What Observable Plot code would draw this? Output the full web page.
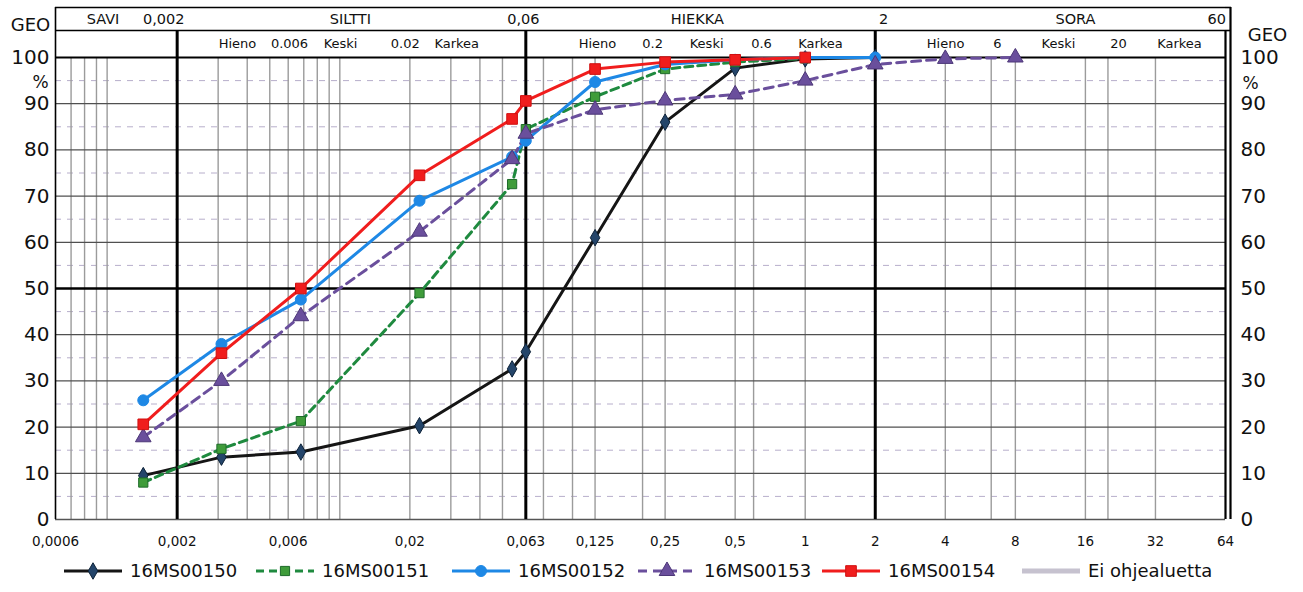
<!DOCTYPE html>
<html>
<head>
<meta charset="utf-8">
<script src="https://cdn.jsdelivr.net/npm/d3@7"></script>
<script src="https://cdn.jsdelivr.net/npm/@observablehq/plot@0.6"></script>
<style>
  html, body { margin: 0; padding: 0; background: #fff; }
  #wrap { width: 1303px; font-family: "DejaVu Sans", Verdana, sans-serif; }
  #legend { position: relative; width: 1303px; height: 36px; font-size: 18px; color: #111; }
  .item { position: absolute; top: 4px; display: flex; align-items: center; white-space: nowrap; }
  .item svg { margin-right: 6px; }
</style>
</head>
<body>
<div id="wrap"><div id="chart"></div><div id="legend"></div></div>
<script>
// ---- data ----
const sizes = [0.00143, 0.0031, 0.0068, 0.022, 0.055, 0.063, 0.125, 0.25, 0.5, 1, 2, 4, 8];
const s16MS00150 = [9.5, 13.5, 14.6, 20.3, 32.6, 36.3, 61, 86, 97.7, 99.7, 100, null, null];
const s16MS00151 = [8, 15.3, 21.3, 49, 72.6, 84.5, 91.5, 97.5, 99, 99.8, null, null, null];
const s16MS00152 = [25.8, 38, 47.6, 69, 78.5, 82, 94.7, 98.5, 99.5, 100, 100, null, null];
const s16MS00153 = [17.8, 30, 44, 62.3, 78, 83.5, 88.7, 90.7, 92, 95, 98.5, 99.7, 100];
const s16MS00154 = [20.6, 36, 50, 74.5, 86.7, 90.6, 97.5, 99, 99.5, 100, null, null, null];
const seriesNames = ["16MS00150", "16MS00151", "16MS00152", "16MS00153", "16MS00154"];
const seriesValues = [s16MS00150, s16MS00151, s16MS00152, s16MS00153, s16MS00154];
const guideName = "Ei ohjealuetta";

const xTicks = [0.0006, 0.002, 0.006, 0.02, 0.063, 0.125, 0.25, 0.5, 1, 2, 4, 8, 16, 32, 64];
const xTickLabels = ["0,0006", "0,002", "0,006", "0,02", "0,063", "0,125", "0,25", "0,5", "1", "2", "4", "8", "16", "32", "64"];
const yTicks = [0, 10, 20, 30, 40, 50, 60, 70, 80, 90, 100];
const gridX = [0.0007, 0.0008, 0.0009, 0.001, 0.003, 0.004, 0.005, 0.006, 0.007, 0.008, 0.009, 0.01,
               0.02, 0.03, 0.04, 0.05, 0.075, 0.1, 0.125, 0.2, 0.25, 0.5, 0.6, 1, 4, 6.3, 8, 16, 20, 32];
const boundaryX = [0.002, 0.063, 2];
const band1Labels = ["SAVI", "0,002", "SILTTI", "0,06", "HIEKKA", "2", "SORA", "60"];
const band1X = [0.00096, 0.00175, 0.0111, 0.0615, 0.344, 2.17, 14.5, 58.7];
const band2Labels = ["Hieno", "0.006", "Keski", "0.02", "Karkea", "Hieno", "0.2", "Keski", "0.6", "Karkea",
                     "Hieno", "6", "Keski", "20", "Karkea"];
const band2X = [0.00363, 0.00608, 0.01007, 0.0191, 0.0318, 0.128, 0.221, 0.377, 0.649, 1.163,
                4.01, 6.7, 12.25, 22.2, 40.6];

// ---- styles ----
const styles = [
  {stroke: "#151515", dash: null, symbol: "diamond", fill: "#24456a", mstroke: "#0d2238", r: 5},
  {stroke: "#1f8a3f", dash: "8,5", symbol: "square", fill: "#3f9c3a", mstroke: "#1e6b2a", r: 5.2},
  {stroke: "#1e88e5", dash: null, symbol: "circle", fill: "#1e88e5", mstroke: "#1e88e5", r: 5.5},
  {stroke: "#6a4f9c", dash: "9,6", symbol: "triangle", fill: "#6a4f9c", mstroke: "#4d3778", r: 5.8},
  {stroke: "#f01d1d", dash: null, symbol: "square", fill: "#f01d1d", mstroke: "#d01010", r: 6}
];

const series = seriesNames.map((name, k) =>
  sizes.map((s, i) => ({size: s, pct: seriesValues[k][i], name})).filter(d => d.pct != null));

const yTop = 100, yRow = 105.84, yHead = 110.82;
const xMin = xTicks[0], xMax = xTicks[xTicks.length - 1];
const fives = d3.range(5, 100, 10);
const tens = yTicks.filter(v => v > 0 && v < 100 && v !== 50);

const marks = [
  // minor grid
  Plot.ruleY(fives, {stroke: "#b7aecb", strokeWidth: 1, strokeDasharray: "6,6"}),
  Plot.ruleX(gridX, {y1: 0, y2: yTop, stroke: "#9b9b9b", strokeWidth: 1.4}),
  Plot.ruleY(tens, {stroke: "#505050", strokeWidth: 1.3}),
  Plot.ruleY([50], {stroke: "#000", strokeWidth: 2.6}),
  Plot.ruleY([0], {stroke: "#555", strokeWidth: 1.5}),
  // boundaries
  Plot.ruleX(boundaryX, {y1: 0, y2: yRow, stroke: "#000", strokeWidth: 3}),
  Plot.ruleX([xMin], {y1: 0, y2: yHead, stroke: "#000", strokeWidth: 1.6}),
  Plot.ruleX([xMax], {y1: 0, y2: yRow, stroke: "#000", strokeWidth: 2.2}),
  Plot.ruleX([xMax], {y1: 0, y2: yHead, dx: 5, stroke: "#000", strokeWidth: 2.2}),
  // header lines
  Plot.ruleY([yTop], {x1: xMin, x2: xMax, stroke: "#000", strokeWidth: 2.2}),
  Plot.ruleY([yRow, yHead], {x1: xMin, x2: xMax, stroke: "#000", strokeWidth: 1.6}),
  Plot.ruleY([yRow, yHead], {x1: xMax, x2: xMax, insetRight: -6, stroke: "#000", strokeWidth: 1.6}),
  Plot.text(band1Labels, {x: (d, i) => band1X[i], y: 108.3, fontSize: 14.5, fill: "#111"}),
  Plot.text(band2Labels, {x: (d, i) => band2X[i], y: 102.9, fontSize: 13, fill: "#111"}),
  // x tick labels
  Plot.text(xTicks, {x: d => d, frameAnchor: "bottom", dy: 26, fontSize: 13.5, fill: "#111",
    text: (d, i) => xTickLabels[i], fontWeight: d => d === 0.063 ? "bold" : "normal"}),
  // y axes
  Plot.axisY(yTicks, {anchor: "left", tickSize: 0, tickPadding: 6, fontSize: 20, label: null}),
  Plot.axisY(yTicks, {anchor: "right", tickSize: 0, tickPadding: 15, fontSize: 20, label: null}),
  Plot.text(["GEO"], {frameAnchor: "top-left", textAnchor: "middle", dx: -25, dy: -39, fontSize: 18, fill: "#111"}),
  Plot.text(["%"], {frameAnchor: "top-left", textAnchor: "middle", dx: -15, dy: 18, fontSize: 17, fill: "#111"}),
  Plot.text(["GEO"], {frameAnchor: "top-right", textAnchor: "middle", dx: 42, dy: -29, fontSize: 18, fill: "#111"}),
  Plot.text(["%"], {frameAnchor: "top-right", textAnchor: "middle", dx: 25, dy: 19, fontSize: 17, fill: "#111"})
];

series.forEach((rows, k) => {
  const s = styles[k];
  marks.push(Plot.line(rows, {x: "size", y: "pct", stroke: s.stroke, strokeWidth: 3,
    strokeDasharray: s.dash || undefined, curve: "linear"}));
});
series.forEach((rows, k) => {
  const s = styles[k];
  marks.push(Plot.dot(rows, {x: "size", y: "pct", symbol: () => s.symbol, r: s.r,
    fill: s.fill, stroke: s.mstroke, strokeWidth: 1}));
});

const chart = Plot.plot({
  width: 1303,
  height: 556,
  marginLeft: 55,
  marginRight: 78,
  marginTop: 57,
  marginBottom: 37,
  style: {fontFamily: "DejaVu Sans, Verdana, sans-serif", background: "#fff", color: "#111"},
  x: {type: "log", domain: [xMin, xMax], axis: null},
  y: {domain: [0, 100], axis: null},
  symbol: {type: "identity"},
  marks
});
document.getElementById("chart").append(chart);

// ---- legend ----
const legend = document.getElementById("legend");
const legendLeft = [62, 254, 450, 636, 820, 1020];
const svgNS = "http://www.w3.org/2000/svg";
function swatch(style, w) {
  const svg = document.createElementNS(svgNS, "svg");
  svg.setAttribute("width", w); svg.setAttribute("height", 20);
  const line = document.createElementNS(svgNS, "line");
  line.setAttribute("x1", 2); line.setAttribute("x2", w - 2);
  line.setAttribute("y1", 10); line.setAttribute("y2", 10);
  line.setAttribute("stroke", style.stroke);
  line.setAttribute("stroke-width", style.width || 3);
  if (style.dash) line.setAttribute("stroke-dasharray", style.dash);
  svg.append(line);
  if (style.symbol) {
    const p = document.createElementNS(svgNS, "path");
    const sym = {diamond: d3.symbolDiamond, square: d3.symbolSquare, circle: d3.symbolCircle, triangle: d3.symbolTriangle}[style.symbol];
    p.setAttribute("d", d3.symbol(sym, Math.PI * style.r * style.r)());
    p.setAttribute("transform", `translate(${w / 2},10)`);
    p.setAttribute("fill", style.fill);
    p.setAttribute("stroke", style.mstroke);
    svg.append(p);
  }
  return svg;
}
seriesNames.concat([guideName]).forEach((name, k) => {
  const item = document.createElement("div");
  item.className = "item";
  item.style.left = legendLeft[k] + "px";
  const st = k < styles.length ? styles[k] : {stroke: "#c6c2cf", width: 5};
  item.append(swatch(st, 62));
  const t = document.createElement("span");
  t.textContent = name;
  item.append(t);
  legend.append(item);
});
</script>
</body>
</html>
